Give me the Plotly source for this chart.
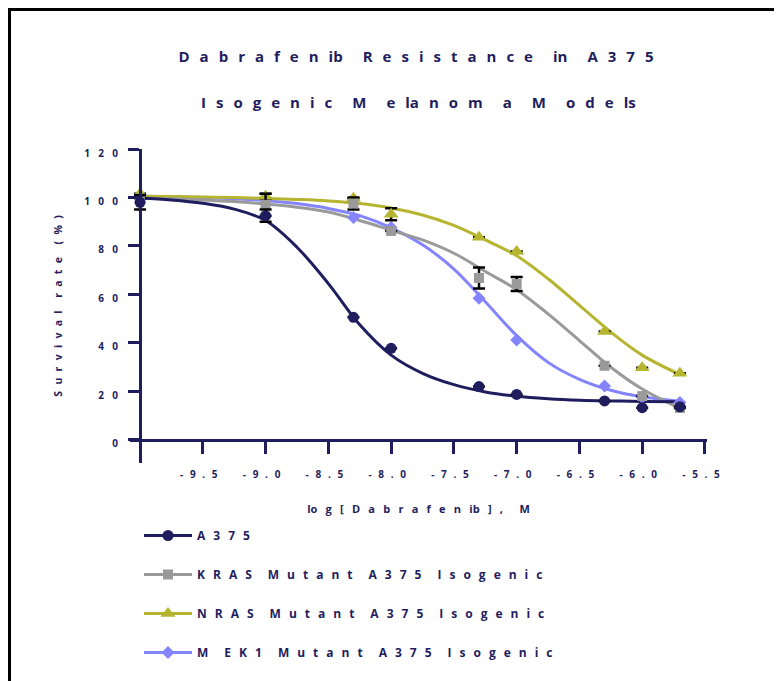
import plotly.graph_objects as go

# ---------------- data ----------------
DOSE = [-10.0, -9.0, -8.3, -8.0, -7.3, -7.0, -6.3, -6.0, -5.7]

A375 = [98.0, 92.5, 50.6, 37.8, 22.0, 18.8, 16.1, 13.3, 13.7]
A375_ERR = [2.9, 2.5, None, None, None, None, None, None, None]
KRAS = [99.7, 97.0, 97.5, 86.2, 66.8, 64.3, 30.6, 18.1, 13.2]
KRAS_ERR = [None, 4.5, 2.5, None, 4.3, 2.9, None, None, None]
NRAS = [101.5, 100.5, 99.7, 93.1, 83.6, 77.7, 44.7, 29.8, 27.5]
NRAS_ERR = [None, 1.0, None, 2.5, None, None, None, None, None]
MEK1 = [100.5, 99.0, 91.8, 87.6, 58.4, 41.2, 22.3, 17.6, 15.5]

# fitted curves
CURVE_X = [-10.0, -9.75, -9.5, -9.25, -9.0, -8.75, -8.5, -8.25, -8.0,
           -7.75, -7.5, -7.25, -7.0, -6.75, -6.5, -6.25, -6.0, -5.7]
A375_FIT = [99.8, 99.0, 97.6, 95.2, 90.5, 79.5, 64.5, 47.5, 35.0,
            27.5, 22.8, 19.8, 18.0, 17.0, 16.4, 16.1, 15.9, 15.8]
KRAS_FIT = [99.8, 99.5, 99.0, 98.3, 97.3, 96.0, 94.0, 90.5, 86.5,
            82.5, 77.0, 69.5, 62.0, 52.0, 41.0, 30.0, 21.0, 13.0]
NRAS_FIT = [100.5, 100.4, 100.2, 100.0, 99.6, 99.2, 98.6, 97.5, 95.7,
            92.8, 88.5, 82.5, 76.0, 66.5, 55.5, 44.5, 35.0, 27.0]
MEK1_FIT = [100.5, 100.3, 100.0, 99.5, 98.8, 97.5, 95.5, 92.5, 87.5,
            80.5, 70.5, 57.0, 43.0, 32.0, 25.0, 20.5, 17.8, 16.0]

SERIES_NAMES = ["A 3 7 5",
                "K R A S  M u t a n t  A 3 7 5  I s o g e n i c",
                "N R A S  M u t a n t  A 3 7 5  I s o g e n i c",
                "M  E K 1  M u t a n t  A 3 7 5  I s o g e n i c"]

X_TICK_VALS = [-9.5, -9.0, -8.5, -8.0, -7.5, -7.0, -6.5, -6.0, -5.5]
X_TICK_TEXT = ["- 9 . 5", "- 9 . 0", "- 8 . 5", "- 8 . 0", "- 7 . 5",
               "- 7 . 0", "- 6 . 5", "- 6 . 0", "- 5 . 5"]
Y_TICK_VALS = [0, 20, 40, 60, 80, 100, 120]
Y_TICK_TEXT = ["0", "2 0", "4 0", "6 0", "8 0", "1 0 0", "1 2 0"]

TITLE_1 = "D a b r a f e n ib  R e s i s t a n c e  in  A 3 7 5"
TITLE_2 = "I s o g e n i c  M  e la n o m  a  M  o d e ls"
X_TITLE = "lo g [ D a b r a f e n ib ] ,  M"
Y_TITLE = "S u r v i v a l  r a t e  ( % )"

# ---------------- styling ----------------
NAVY = "#1F1D5E"
GRAY = "#9A9A9A"
OLIVE = "#B5B530"
LILAC = "#8484FF"
FONT = "Open Sans"


def em_gap(w):
    parts = []
    for ch, val in [("\u2003", 1.0), ("\u2002", 0.5), ("\u2004", 1 / 3),
                    ("\u2005", 0.25), ("\u2006", 1 / 6), ("\u200a", 0.1)]:
        while w >= val - 0.03:
            parts.append(ch)
            w -= val
    return "".join(parts)


def spread(s, unit):
    return s.replace(" ", em_gap(unit))


series = [
    (SERIES_NAMES[0], A375, A375_ERR, A375_FIT, NAVY, "circle", 11),
    (SERIES_NAMES[1], KRAS, KRAS_ERR, KRAS_FIT, GRAY, "square", 10),
    (SERIES_NAMES[2], NRAS, NRAS_ERR, NRAS_FIT, OLIVE, "triangle-up", 13),
    (SERIES_NAMES[3], MEK1, None, MEK1_FIT, LILAC, "diamond", 10),
]

fig = go.Figure()

# legend entries (line + marker)
for i, (name, ys, err, fit, col, sym, sz) in enumerate(series):
    fig.add_trace(go.Scatter(
        x=[None], y=[None], mode="lines+markers", name=spread(name, 0.7),
        legendgroup=f"g{i}", line=dict(color=col, width=3),
        marker=dict(color=col, symbol=sym, size=sz), showlegend=True))

# fitted curves
for i, (name, ys, err, fit, col, sym, sz) in reversed(list(enumerate(series))):
    fig.add_trace(go.Scatter(
        x=CURVE_X, y=fit, mode="lines", line=dict(color=col, width=3, shape="spline", smoothing=1.0),
        legendgroup=f"g{i}", showlegend=False, hoverinfo="skip"))

# data points
for i, (name, ys, err, fit, col, sym, sz) in reversed(list(enumerate(series))):
    kw = {}
    if err is not None:
        kw["error_y"] = dict(type="data", array=err, visible=True, color="black",
                             thickness=2.5, width=6)
    fig.add_trace(go.Scatter(
        x=DOSE, y=ys, mode="markers", marker=dict(color=col, symbol=sym, size=sz, line=dict(width=0)),
        legendgroup=f"g{i}", showlegend=False, **kw))

L, R, T, B = 122, 83, 141, 226
W, H = 782, 681
pw, ph = W - L - R, H - T - B
XR = [-10.08, -5.484]
YR = [-9.5, 120]

fig.update_layout(
    width=W, height=H,
    margin=dict(l=L, r=R, t=T, b=B),
    paper_bgcolor="white", plot_bgcolor="white",
    font=dict(family=FONT, color=NAVY, weight="bold"),
    title=dict(text=spread(TITLE_1, 0.71), x=408 / W, xanchor="center",
               y=1 - 49 / H, yanchor="middle", yref="container",
               font=dict(family=FONT, size=15, color=NAVY, weight="bold")),
    xaxis=dict(range=XR, anchor="free", position=(0 - YR[0]) / (YR[1] - YR[0]),
               showline=True, linecolor=NAVY, linewidth=3,
               ticks="outside", ticklen=12, tickwidth=3, tickcolor=NAVY,
               tickvals=X_TICK_VALS, ticktext=[spread(t, 0.66) for t in X_TICK_TEXT],
               tickfont=dict(family=FONT, size=10, color=NAVY, weight="bold"),
               ticklabelstandoff=12, ticklabelshift=-4,
               showgrid=False, zeroline=False, automargin=False,
               title=dict(text=spread(X_TITLE, 0.76), standoff=25,
                          font=dict(family=FONT, size=11, color=NAVY, weight="bold"))),
    yaxis=dict(range=YR, anchor="free", position=(-10 - XR[0]) / (XR[1] - XR[0]),
               showline=True, linecolor=NAVY, linewidth=3,
               ticks="outside", ticklen=11, tickwidth=3, tickcolor=NAVY,
               tickvals=Y_TICK_VALS, ticktext=[spread(t, 0.9) for t in Y_TICK_TEXT],
               tickfont=dict(family=FONT, size=10, color=NAVY, weight="bold"),
               ticklabelstandoff=8, ticklabelshift=4,
               showgrid=False, zeroline=False, automargin=False,
               title=dict(text=spread(Y_TITLE, 0.6), standoff=18,
                          font=dict(family=FONT, size=10.5, color=NAVY, weight="bold"))),
    legend=dict(x=(131 - L) / pw, y=(H - B - 513) / ph, xanchor="left", yanchor="top",
                bgcolor="rgba(0,0,0,0)", borderwidth=0, itemwidth=48,
                tracegroupgap=20,
                font=dict(family=FONT, size=12, color=NAVY, weight="bold")),
    annotations=[dict(text=spread(TITLE_2, 0.71), xref="paper", yref="paper",
                      x=(410 - L) / pw, y=(H - B - 94) / ph, xanchor="center", yanchor="middle",
                      showarrow=False,
                      font=dict(family=FONT, size=15, color=NAVY, weight="bold"))],
    shapes=[dict(type="rect", xref="paper", yref="paper",
                 x0=(1.5 - L) / pw, x1=2.0, y0=-2.0, y1=(H - B - 1.5) / ph,
                 line=dict(color="black", width=3), fillcolor="rgba(0,0,0,0)", layer="below")],
)

fig.write_html("out.html")
